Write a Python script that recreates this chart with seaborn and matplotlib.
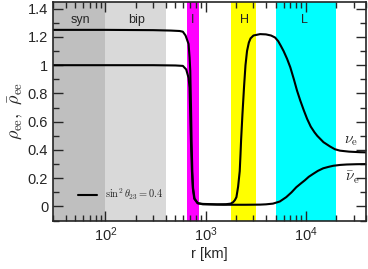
import numpy as np
import pandas as pd
import seaborn as sns
import matplotlib
matplotlib.use("Agg")
import matplotlib.pyplot as plt
from matplotlib.ticker import FuncFormatter, MultipleLocator, LogLocator

# ---- data ----
r_nu = [30, 100, 300, 450, 550, 593, 631, 676, 692, 703, 715, 725, 737, 750, 776, 837, 940,
        1300, 1600, 1780, 1880, 1960, 2030, 2110, 2190, 2230, 2260, 2330, 2420, 2500, 2590,
        2700, 2810, 3000, 3500, 4000, 4500, 4930, 5300, 5600, 6000, 6500, 7000, 7600, 8170,
        8800, 9550, 10300, 11200, 12200, 13000, 15000, 17400, 19500, 21900, 27000, 34700,
        40000]
rho_nu = [1.25, 1.25, 1.248, 1.245, 1.242, 1.237, 1.21, 1.15, 1.055, 0.96, 0.7, 0.45, 0.25,
          0.13, 0.055, 0.023, 0.018, 0.015, 0.016, 0.02, 0.03, 0.045, 0.066, 0.14, 0.25, 0.37,
          0.47, 0.65, 0.85, 1.0, 1.1, 1.16, 1.19, 1.21, 1.22, 1.218, 1.21, 1.196, 1.17, 1.14,
          1.10, 1.045, 0.985, 0.90, 0.82, 0.75, 0.68, 0.62, 0.565, 0.525, 0.50, 0.455, 0.425,
          0.405, 0.395, 0.388, 0.384, 0.383]

r_nubar = [30, 100, 300, 500, 593, 640, 676, 692, 705, 718, 730, 745, 770, 830, 940, 1500,
           2500, 3500, 4000, 4700, 5500, 6380, 7200, 8030, 9000, 9770, 10700, 11800, 13200,
           14900, 16800, 18800, 22000, 25600, 32000, 40000]
rho_nubar = [1.0, 1.0, 1.0, 0.998, 0.995, 0.97, 0.91, 0.84, 0.6, 0.4, 0.25, 0.13, 0.055, 0.023,
             0.015, 0.012, 0.012, 0.013, 0.015, 0.02, 0.035, 0.066, 0.10, 0.136, 0.165, 0.185,
             0.21, 0.23, 0.252, 0.27, 0.28, 0.288, 0.294, 0.297, 0.299, 0.30]

band_names = ["syn", "bip", "I", "H", "L"]
band_lo = [30, 100, 650, 1800, 5000]
band_hi = [100, 400, 850, 3200, 20000]
band_colors = ["#bfbfbf", "#d9d9d9", "#ff00ff", "#ffff00", "#00ffff"]
band_label_x = [56, 204, 747, 2455, 9700]

legend_label = r"$\sin^2\theta_{23} = 0.4$"

# ---- plotting ----
sns.set_style("ticks")
plt.rcParams["font.family"] = ["Liberation Sans", "DejaVu Sans"]
plt.rcParams["mathtext.fontset"] = "cm"

fig = plt.figure(figsize=(3.68, 2.69), dpi=100)
ax = fig.add_axes([0.144, 0.18, 0.851, 0.814])

for lo, hi, c in zip(band_lo, band_hi, band_colors):
    ax.axvspan(lo, hi, color=c, lw=0, zorder=0)
for name, x in zip(band_names, band_label_x):
    ax.text(x, 1.32, name, ha="center", va="center", fontsize=9, zorder=3)

df1 = pd.DataFrame({"r": r_nu, "rho": rho_nu})
df2 = pd.DataFrame({"r": r_nubar, "rho": rho_nubar})
sns.lineplot(data=df1, x="r", y="rho", ax=ax, color="black", lw=1.5, label=legend_label,
             sort=False, zorder=4)
sns.lineplot(data=df2, x="r", y="rho", ax=ax, color="black", lw=1.5, sort=False, zorder=4)

ax.set_xscale("log")
ax.set_xlim(30, 40000)
ax.set_ylim(-0.1, 1.45)

ax.text(24000, 0.46, r"$\nu_\mathrm{e}$", fontsize=11, ha="left", va="center")
ax.text(24500, 0.205, r"$\bar{\nu}_\mathrm{e}$", fontsize=11, ha="left", va="center")

ax.yaxis.set_major_locator(MultipleLocator(0.2))
ax.yaxis.set_minor_locator(MultipleLocator(0.1))
ax.yaxis.set_major_formatter(FuncFormatter(lambda v, p: "%g" % round(v, 2)))
ax.xaxis.set_major_locator(LogLocator(base=10, numticks=10))
ax.xaxis.set_minor_locator(LogLocator(base=10, subs=np.arange(2, 10), numticks=100))

ax.tick_params(which="both", direction="in", top=True, right=True, labelsize=10.5,
               width=1.0)
ax.tick_params(which="major", length=7)
ax.tick_params(which="minor", length=4)
for s in ax.spines.values():
    s.set_linewidth(1.2)
    s.set_zorder(5)

ax.set_xlabel("r [km]", fontsize=10.5, labelpad=2)
ax.set_ylabel(r"$\rho_\mathrm{ee},\ \bar{\rho}_\mathrm{ee}$", fontsize=13, labelpad=2)

leg = ax.legend(loc="lower left", bbox_to_anchor=(0.05, 0.04), frameon=False, fontsize=7.5,
                handlelength=1.8, handletextpad=0.8)

fig.savefig("out.png", dpi=100)
